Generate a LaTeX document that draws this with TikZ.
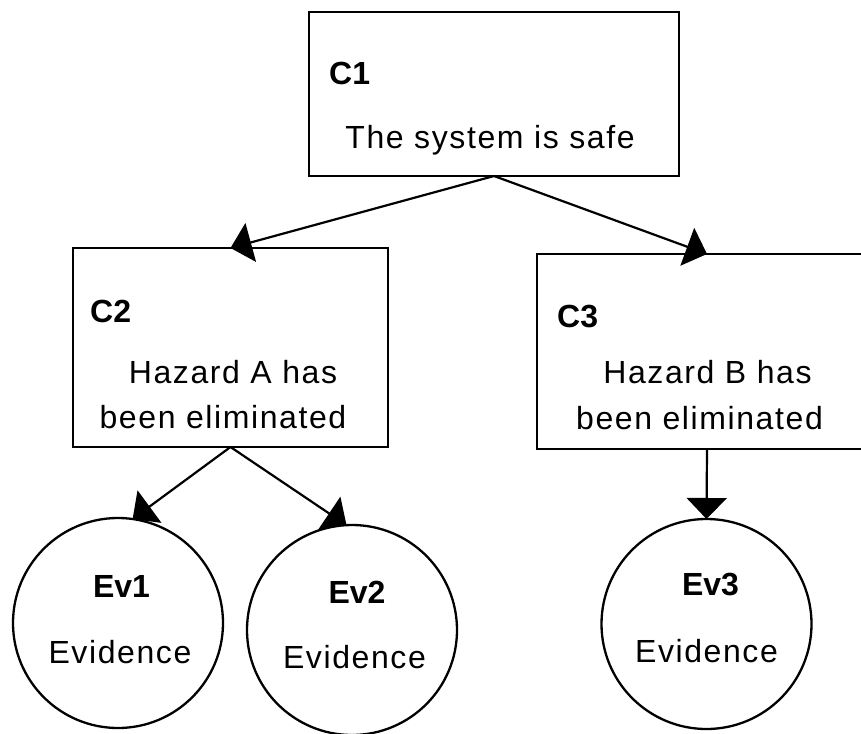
\documentclass[tikz,border=0pt]{standalone}
\usepackage{fontspec}
\setmainfont{Liberation Sans}
\newfontfamily\bodyfont[LetterSpace=5]{Liberation Sans}
\usetikzlibrary{arrows.meta}
\begin{document}
\begin{tikzpicture}[x=1pt,y=-1pt,
  claim/.style={draw, line width=2.3pt, rectangle, inner sep=0pt, outer sep=0pt},
  evid/.style={draw, line width=2.3pt, circle, inner sep=0pt, outer sep=0pt, minimum size=210pt},
  lbl/.style={font=\fontsize{32}{38}\selectfont\bfseries, inner sep=0pt, anchor=base west},
  txt/.style={font=\bodyfont\fontsize{32}{38}\selectfont, inner sep=0pt, anchor=base},
  link/.style={line width=2.2pt, -{Triangle[length=21pt,width=40pt]}}]
\useasboundingbox (0,0) rectangle (861,733);

% claims
\node[claim, minimum width=370pt, minimum height=164pt] (C1) at (494,94) {};
\node[claim, minimum width=315pt, minimum height=199pt] (C2) at (230.5,347.5) {};
\node[claim, minimum width=340pt, minimum height=195pt] (C3) at (707,351.5) {};

% evidence
\node[evid] (Ev1) at (118,623) {};
\node[evid] (Ev2) at (352,630) {};
\node[evid] (Ev3) at (706.5,624) {};

% texts
\node[lbl] (C1l) at (329,85) {C1};
\node[txt] (C1t) at (490,148) {The system is safe};
\node[lbl] (C2l) at (90,322) {C2};
\node[txt] (C2t1) at (233,383) {Hazard A has};
\node[txt] (C2t2) at (223,428) {been eliminated};
\node[lbl] (C3l) at (557,327) {C3};
\node[txt] (C3t1) at (707.5,383) {Hazard B has};
\node[txt] (C3t2) at (699.5,429) {been eliminated};
\node[lbl, anchor=base] (Ev1l) at (121.5,597) {Ev1};
\node[txt] (Ev1t) at (120,663) {Evidence};
\node[lbl, anchor=base] (Ev2l) at (357,603) {Ev2};
\node[txt] (Ev2t) at (354.5,668) {Evidence};
\node[lbl, anchor=base] (Ev3l) at (710.5,595) {Ev3};
\node[txt] (Ev3t) at (706.5,662) {Evidence};

% connectors
\draw[link] (C1.south) -- (C2.north);
\draw[link] (C1.south) -- (C3.north);
\draw[link] (C2.south) -- (Ev1.82);
\draw[link] (C2.south) -- (Ev2.93);
\draw[link] (C3.south) -- (Ev3.north);
\end{tikzpicture}
\end{document}
